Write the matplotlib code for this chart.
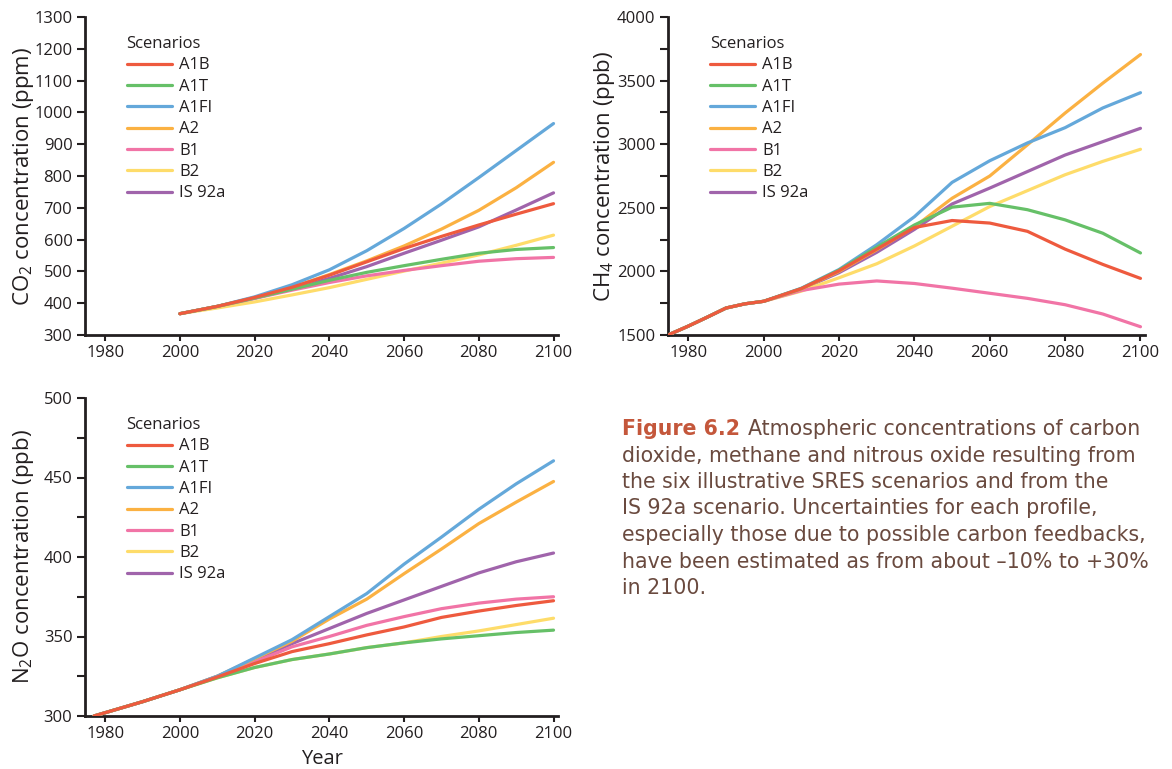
import matplotlib
matplotlib.use("Agg")
import matplotlib.pyplot as plt
from matplotlib.ticker import MultipleLocator

plt.rcParams['font.family'] = ['Open Sans', 'DejaVu Sans']
plt.rcParams['mathtext.fontset'] = 'custom'
plt.rcParams['mathtext.rm'] = 'Open Sans'
plt.rcParams['mathtext.it'] = 'Open Sans:italic'

scenarios = ['A1B', 'A1T', 'A1FI', 'A2', 'B1', 'B2', 'IS 92a']
colors = ['#ee5a3e', '#66c068', '#64a8da', '#fbb142', '#f174a6', '#fedc6a', '#a064ab']

years = [2000, 2010, 2020, 2030, 2040, 2050, 2060, 2070, 2080, 2090, 2100]

# CO2 (ppm)
co2_a1b = [367, 390, 418, 450, 488, 530, 572, 610, 646, 680, 713]
co2_a1t = [367, 390, 416, 444, 472, 497, 518, 538, 557, 569, 575]
co2_a1fi = [367, 390, 420, 458, 505, 565, 635, 712, 795, 880, 965]
co2_a2 = [367, 390, 418, 450, 490, 533, 580, 633, 692, 763, 843]
co2_b1 = [367, 390, 415, 441, 465, 486, 503, 518, 532, 540, 544]
co2_b2 = [367, 385, 404, 426, 449, 475, 501, 526, 552, 582, 614]
co2_is92a = [367, 390, 416, 445, 478, 515, 557, 598, 640, 693, 747]

# CH4 (ppb), shared history then scenarios
ch4_hist_years = [1975, 1980, 1985, 1990, 1995]
ch4_hist = [1505, 1570, 1640, 1712, 1745]
ch4_a1b = [1765, 1865, 2005, 2175, 2345, 2400, 2380, 2315, 2175, 2055, 1945]
ch4_a1t = [1765, 1865, 2010, 2190, 2365, 2505, 2535, 2485, 2405, 2300, 2145]
ch4_a1fi = [1765, 1868, 2015, 2210, 2430, 2700, 2870, 3010, 3130, 3285, 3405]
ch4_a2 = [1765, 1862, 2000, 2170, 2350, 2575, 2750, 2995, 3245, 3480, 3705]
ch4_b1 = [1765, 1850, 1900, 1925, 1905, 1868, 1828, 1788, 1738, 1665, 1565]
ch4_b2 = [1765, 1845, 1950, 2060, 2200, 2355, 2510, 2635, 2760, 2865, 2960]
ch4_is92a = [1765, 1860, 1990, 2150, 2330, 2530, 2655, 2785, 2915, 3020, 3125]

# N2O (ppb)
n2o_hist_years = [1977, 1990]
n2o_hist = [300, 309]
n2o_a1b = [316.5, 324.5, 333, 340.5, 345.5, 351, 356, 362, 366, 369.5, 372.5]
n2o_a1t = [316.5, 324, 330.5, 335.5, 339, 343, 346, 348.5, 350.5, 352.5, 354]
n2o_a1fi = [316.5, 325, 336.5, 348, 362.5, 377, 395.5, 412.5, 430, 446, 460.5]
n2o_a2 = [316.5, 325, 336, 347, 361, 373.5, 389.5, 405, 421, 434.5, 447.5]
n2o_b1 = [316.5, 324.5, 334, 343.5, 350, 357, 362.5, 367.5, 371, 373.5, 375]
n2o_b2 = [316.5, 324, 330.5, 335.5, 339, 343, 346, 350, 353.5, 357.5, 361.5]
n2o_is92a = [316.5, 325, 335, 345.5, 355, 364.5, 373, 381.5, 390, 397, 402.5]

co2 = [co2_a1b, co2_a1t, co2_a1fi, co2_a2, co2_b1, co2_b2, co2_is92a]
ch4 = [ch4_a1b, ch4_a1t, ch4_a1fi, ch4_a2, ch4_b1, ch4_b2, ch4_is92a]
n2o = [n2o_a1b, n2o_a1t, n2o_a1fi, n2o_a2, n2o_b1, n2o_b2, n2o_is92a]

caption = [
    "dioxide, methane and nitrous oxide resulting from",
    "the six illustrative SRES scenarios and from the",
    "IS 92a scenario. Uncertainties for each profile,",
    "especially those due to possible carbon feedbacks,",
    "have been estimated as from about \u201310% to +30%",
    "in 2100.",
]

W, H = 1172, 769
DARK = '#231f20'
fig = plt.figure(figsize=(W / 100, H / 100), dpi=100)


def add_axes(l, t, r, b):
    return fig.add_axes([l / W, 1 - b / H, (r - l) / W, (b - t) / H])


def draw(ax, series, hist_x, hist_y, ylabel, ylim, major, minor, lab_x):
    for i in reversed(range(len(scenarios))):
        xs = list(hist_x) + years
        ys = list(hist_y) + series[i]
        ax.plot(xs, ys, color=colors[i], lw=2.3, label=scenarios[i],
                solid_capstyle='round', zorder=3 + (len(scenarios) - i))
    for s in ['top', 'right']:
        ax.spines[s].set_visible(False)
    for s in ['left', 'bottom']:
        ax.spines[s].set_linewidth(2.0)
        ax.spines[s].set_color(DARK)
    ax.set_xlim(1974.6, 2101.2)
    ax.set_xticks(range(1980, 2101, 20))
    ax.set_ylim(*ylim)
    ax.yaxis.set_major_locator(MultipleLocator(major))
    if minor:
        ax.yaxis.set_minor_locator(MultipleLocator(minor))
    ax.tick_params(axis='y', which='both', length=6, width=1.5, color=DARK,
                   labelsize=12, labelcolor=DARK, pad=3)
    ax.tick_params(axis='x', length=4, width=1.5, color=DARK,
                   labelsize=12, labelcolor=DARK, pad=3)
    ax.set_ylabel(ylabel, fontsize=16, color=DARK)
    ax.yaxis.set_label_coords(lab_x, 0.5)
    handles, labels = ax.get_legend_handles_labels()
    leg = ax.legend(handles[::-1], labels[::-1], title='Scenarios',
                    loc='upper left', bbox_to_anchor=(0.088, 0.94),
                    frameon=False, fontsize=12, title_fontsize=12,
                    handlelength=2.7, handletextpad=0.45, labelspacing=0.32,
                    borderpad=0, borderaxespad=0, alignment='left')
    for t in leg.get_texts():
        t.set_color(DARK)
    leg.get_title().set_color(DARK)


ax1 = add_axes(85, 17, 558, 335)
draw(ax1, co2, [], [], r'CO$_2$ concentration (ppm)', (300, 1300), 100, None, -0.104)

ax2 = add_axes(668, 17, 1145, 335)
draw(ax2, ch4, ch4_hist_years, ch4_hist, r'CH$_4$ concentration (ppb)', (1500, 4000), 500, 250, -0.107)

ax3 = add_axes(85, 398, 558, 716)
draw(ax3, n2o, n2o_hist_years, n2o_hist, r'N$_2$O concentration (ppb)', (300, 500), 50, 25, -0.104)
ax3.set_xlabel('Year', fontsize=14.5, color=DARK, labelpad=5)

# caption
cap_x = 622 / W
line_h = 26.5 / H
y0 = 1 - 429 / H
fs = 14.8
cap_font = ['DejaVu Sans']
fig_t = fig.text(cap_x, y0, 'Figure 6.2', fontsize=fs, fontweight='bold',
                 family=cap_font, color='#c4573b', va='center', ha='left')
fig.canvas.draw()
bb = fig_t.get_window_extent()
fig.text(bb.x1 / W + 8 / W, y0, 'Atmospheric concentrations of carbon', fontsize=fs,
         family=cap_font, color='#6a4a3f', va='center', ha='left')
for k, line in enumerate(caption):
    fig.text(cap_x, y0 - (k + 1) * line_h, line, fontsize=fs, family=cap_font,
             color='#6a4a3f', va='center', ha='left')

fig.savefig('out.png', dpi=100)
